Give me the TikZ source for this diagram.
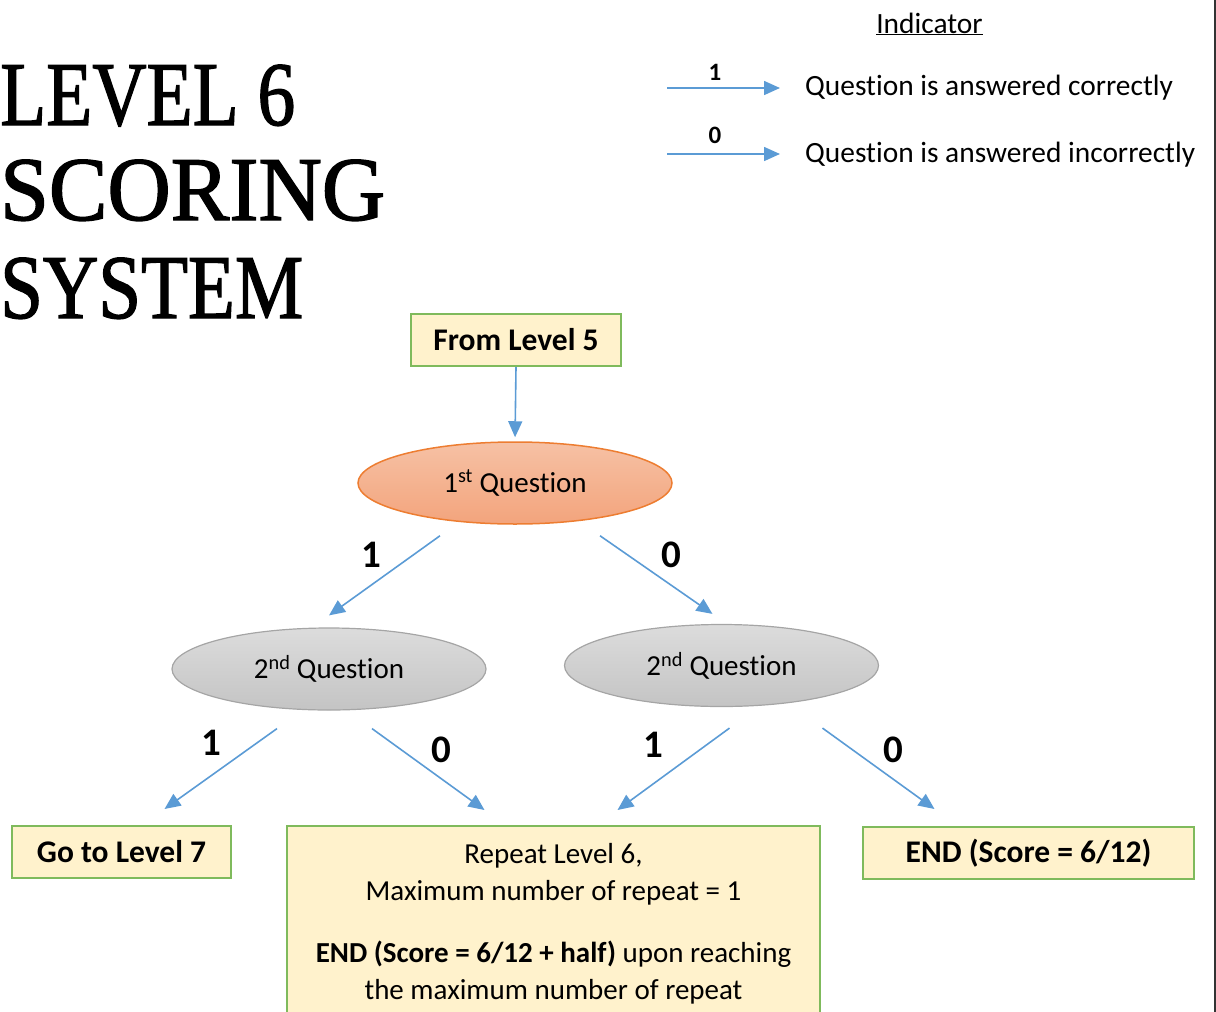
\documentclass[tikz,border=0pt]{standalone}
\usepackage{fontspec}
\usepackage{graphicx}
\setmainfont{Carlito}[Ligatures=NoCommon]
\newfontfamily\titlefont{Liberation Serif}[FakeBold=1.6]
\usetikzlibrary{arrows.meta,calc,shapes.geometric}

\definecolor{boxfill}{HTML}{FFF2CC}
\definecolor{boxgreen}{HTML}{7FBA5C}
\definecolor{linkblue}{HTML}{5B9BD5}
\definecolor{orangeline}{HTML}{ED7D31}
\definecolor{orangetop}{HTML}{F6C1A5}
\definecolor{orangebot}{HTML}{F3A47C}
\definecolor{greyline}{HTML}{A5A5A5}
\definecolor{greytop}{HTML}{DCDCDC}
\definecolor{greybot}{HTML}{C4C4C4}
\definecolor{framegrey}{HTML}{333333}

\begin{document}
\begin{tikzpicture}[x=1pt,y=-1pt,
  box/.style={draw=boxgreen, fill=boxfill, line width=2pt, inner sep=0pt,
    font=\bfseries\fontsize{31.5}{36}\selectfont},
  firstq/.style={ellipse, draw=orangeline, line width=1.5pt,
    top color=orangetop, bottom color=orangebot,
    minimum width=314pt, minimum height=82pt, inner sep=0pt,
    font=\fontsize{29}{35}\selectfont},
  secondq/.style={ellipse, draw=greyline, line width=1.2pt,
    top color=greytop, bottom color=greybot,
    minimum width=314pt, minimum height=82pt, inner sep=0pt,
    font=\fontsize{29}{35}\selectfont},
  link/.style={draw=linkblue, line width=1.6pt,
    -{Triangle[length=16pt,width=14pt]}},
  branch/.style={inner sep=0pt, font=\bfseries\fontsize{39}{40}\selectfont},
  keylabel/.style={inner sep=0pt, font=\bfseries\fontsize{25}{26}\selectfont},
  keytext/.style={inner sep=0pt, anchor=base west, font=\fontsize{29.4}{35}\selectfont},
  headline/.style={inner sep=0pt, anchor=base west, font=\titlefont\fontsize{91}{91}\selectfont}
]
\useasboundingbox (0,0) rectangle (1216,1012);

% frame line on the right
\draw[framegrey, line width=1.5pt] (1215,0) -- (1215,1012);

% heading
\node[headline] (h1) at (0,125) {\resizebox{295pt}{\height}{LEVEL 6}};
\node[headline] (h2) at (0,220) {\resizebox{385pt}{\height}{SCORING}};
\node[headline] (h3) at (0,318) {\resizebox{303pt}{\height}{SYSTEM}};

% key
\node[keytext, anchor=base] (keyhead) at (929.5,33) {\underline{Indicator}};
\coordinate (k1s) at (667,88);
\coordinate (k1e) at (780,88);
\coordinate (k0s) at (667,154);
\coordinate (k0e) at (780,154);
\draw[link] (k1s) -- (k1e);
\draw[link] (k0s) -- (k0e);
\node[keylabel] (k1lab) at (715,72) {1};
\node[keylabel] (k0lab) at (715,135) {0};
\node[keytext] (k1txt) at (805,95) {Question is answered correctly};
\node[keytext] (k0txt) at (805,162) {Question is answered incorrectly};

% flow
\node[box, minimum width=210pt, minimum height=52pt] (from5) at (516,340) {From Level 5};
\node[firstq] (q1) at (515,483) {1\textsuperscript{st} Question};
\node[secondq] (q2l) at (329,669) {2\textsuperscript{nd} Question};
\node[secondq] (q2r) at (721.5,665.5) {2\textsuperscript{nd} Question};

\node[box, minimum width=219pt, minimum height=52pt] (go7) at (121.5,852) {Go to Level 7};
\node[box, minimum width=533pt, anchor=north, inner ysep=17pt, align=center,
  font=\fontsize{29}{37}\selectfont] (repeat) at (553.5,825)
  {Repeat Level 6,\\ Maximum number of repeat = 1\\[25pt]
   \textbf{END (Score = 6/12 + half)} upon reaching\\ the maximum number of repeat};
\node[box, minimum width=331pt, minimum height=52pt] (endbox) at (1028.5,853) {END (Score = 6/12)};

\draw[link, shorten >=4pt] (from5.south) -- (q1.north);

\draw[link] ($(q1.south)+(-75,11)$) -- ($(q2l.north)+(0,-12)$);
\draw[link] ($(q1.south)+(85,11)$) -- ($(q2r.north)+(-9,-10)$);
\node[branch] (b1a) at (371,555) {1};
\node[branch] (b1b) at (671,555) {0};

\draw[link] ($(q2l.south)+(-52,18)$) -- ($(go7.north)+(43,-16)$);
\draw[link] ($(q2l.south)+(43,18)$) -- ($(repeat.north)+(-69,-15)$);
\draw[link] ($(q2r.south)+(8,21)$) -- ($(repeat.north)+(64,-15)$);
\draw[link] ($(q2r.south)+(101,21)$) -- ($(endbox.north)+(-94,-17)$);
\node[branch] (b2a) at (211,743) {1};
\node[branch] (b2b) at (441,750) {0};
\node[branch] (b2c) at (653,745) {1};
\node[branch] (b2d) at (893,750) {0};
\end{tikzpicture}
\end{document}
